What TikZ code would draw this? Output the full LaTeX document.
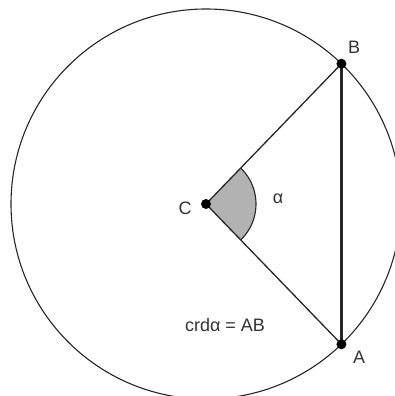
\documentclass[tikz,border=0pt]{standalone}
\usepackage{fontspec}
\setmainfont{Liberation Sans}
\begin{document}
\begin{tikzpicture}[x=1pt,y=1pt,
  ink/.style={draw=black!85},
  dot/.style={circle,fill=black,inner sep=0pt,minimum size=10pt},
  lbl/.style={text=black!80,font=\fontsize{18}{20}\selectfont,inner sep=0pt}]
\useasboundingbox (0,0) rectangle (395,396);
\clip (0,0) rectangle (395,396);
\coordinate (C) at (206,192);
\path (C) ++(46:195) coordinate (B);
\path (C) ++(-46:195) coordinate (A);
\draw[ink,line width=1.1pt] (C) circle[radius=195];
\fill[black!30] (C) -- ++(-46:50) arc[start angle=-46,end angle=46,radius=50] -- cycle;
\draw[ink,line width=1.1pt] (C) ++(-46:50) arc[start angle=-46,end angle=46,radius=50];
\draw[ink,line width=1.3pt] (C) -- (B);
\draw[ink,line width=1.3pt] (C) -- (A);
\draw[ink,line width=3pt] (A) -- (B);
\node[dot] (Cd) at (C) {};
\node[dot] (Bd) at (B) {};
\node[dot] (Ad) at (A) {};
\node[lbl] (Bl) at (354,349) {B};
\node[lbl] (Al) at (359,39) {A};
\node[lbl] (Cl) at (185,188) {C};
\node[lbl] (al) at (278,197) {α};
\node[lbl] (eq) at (225,71) {crdα = AB};
\end{tikzpicture}
\end{document}
